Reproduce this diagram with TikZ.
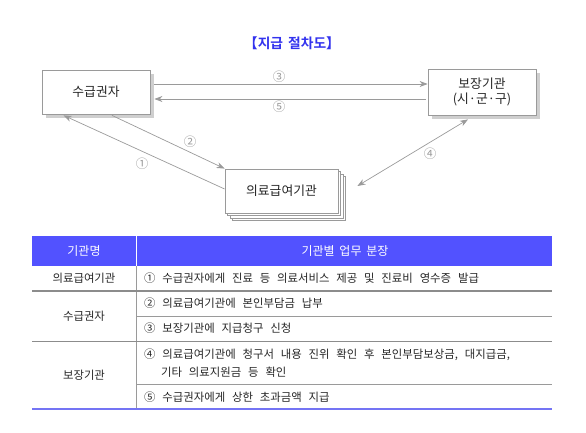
\documentclass[tikz,border=0pt]{standalone}
\usepackage{fontspec}
\setmainfont{Noto Sans CJK KR}[BoldFont={Noto Sans CJK KR Bold}]
\usetikzlibrary{arrows.meta,calc}
\definecolor{lineg}{HTML}{9A9A9A}
\definecolor{shad}{HTML}{CFCFCF}
\definecolor{hdr}{HTML}{5252FF}
\definecolor{ttl}{HTML}{3333EE}
\definecolor{btm}{HTML}{7474F4}
\definecolor{rowg}{HTML}{8C8C8C}
\definecolor{txt}{HTML}{262626}
\newcommand{\widesp}{\spaceskip 6.8pt plus 1pt minus 1pt\relax}
\newcommand{\cellfont}{\fontsize{11.4}{13}\selectfont\widesp}
\newcommand{\hdrfont}{\fontsize{12}{13}\selectfont\spaceskip 4.8pt\relax}
\newcommand{\ttlfont}{\bfseries\fontsize{13.8}{15}\selectfont\spaceskip 5pt\relax}
\tikzset{
  boxnode/.style={draw=lineg,line width=0.8pt,fill=white,minimum width=108pt,minimum height=44pt,inner sep=0pt,font=\fontsize{12.8}{15}\selectfont,text=txt,align=center},
  arr/.style={draw=lineg,line width=0.7pt,-{Stealth[length=8pt,width=6pt,inset=2.5pt]}},
  darr/.style={draw=lineg,line width=0.7pt,{Stealth[length=8pt,width=6pt,inset=2.5pt]}-{Stealth[length=8pt,width=6pt,inset=2.5pt]}},
  numlbl/.style={font=\fontsize{12.5}{13}\selectfont,text=lineg,inner sep=0pt},
  celltxt/.style={font=\cellfont,text=txt,inner sep=0pt},
}
\begin{document}
\begin{tikzpicture}[x=1pt,y=-1pt]
\useasboundingbox (0,0) rectangle (586,433);
% title
\node[font=\ttlfont,text=ttl] (title) at (292,43) {【지급 절차도】};
% shadows
\fill[shad] (46,74) rectangle (154,118);
\fill[shad] (432,73) rectangle (540,119);
% stacked copies
\foreach \o in {7.5,5,2.5}{
  \draw[draw=lineg,line width=0.6pt,fill=white] (225+\o,169+\o) rectangle (338+\o,213+\o);
}
% boxes
\node[boxnode] (A) at (96,92) {수급권자};
\node[boxnode,minimum height=46pt] (B) at (482,92) {보장기관\\(시·군·구)};
\node[boxnode,minimum width=113pt] (C) at (281.5,191) {의료급여기관};
% connectors
\draw[arr] ([xshift=4pt,yshift=8pt]A.east) -- ([yshift=8pt]B.west);
\draw[arr] ([xshift=-2pt,yshift=-7pt]B.west) -- ([xshift=4pt,yshift=-7pt]A.east);
\draw[arr] ([xshift=16pt,yshift=-1pt]A.south) -- (C.north west);
\draw[arr] ([yshift=2pt]C.west) -- ([xshift=22pt,yshift=-1pt]A.south west);
\draw[darr] ([xshift=19pt,yshift=5pt]C.east) -- ([xshift=-14pt,yshift=-4pt]B.south);
\node[numlbl] (n3) at (279,77) {③};
\node[numlbl] (n5) at (279,107) {⑤};
\node[numlbl] (n2) at (190,142) {②};
\node[numlbl] (n1) at (142,164) {①};
\node[numlbl] (n4) at (430,154) {④};
% table
\fill[hdr] (32,236) rectangle (552,266);
\draw[white,line width=0.8pt] (136,236) -- (136,266);
\draw[lineg,line width=0.8pt] (136,266) -- (136,409);
\draw[rowg,line width=1.6pt] (32,291) -- (552,291);
\draw[lineg,line width=0.7pt] (136,316) -- (552,316);
\draw[rowg,line width=0.9pt] (32,341) -- (552,341);
\draw[lineg,line width=0.7pt] (136,384) -- (552,384);
\draw[btm,line width=1.8pt] (32,409) -- (552,409);
\node[celltxt,text=white,font=\hdrfont] (h1) at (84,251) {기관명};
\node[celltxt,text=white,font=\hdrfont] (h2) at (345,251) {기관별 업무 분장};
\node[celltxt] (c1) at (84,278.5) {의료급여기관};
\node[celltxt] (c2) at (84,316) {수급권자};
\node[celltxt] (c3) at (84,375) {보장기관};
\node[celltxt,anchor=west] (r1) at (144,278.5) {① 수급권자에게 진료 등 의료서비스 제공 및 진료비 영수증 발급};
\node[celltxt,anchor=west] (r2) at (144,303.5) {② 의료급여기관에 본인부담금 납부};
\node[celltxt,anchor=west] (r3) at (144,328.5) {③ 보장기관에 지급청구 신청};
\node[celltxt,anchor=west] (r4) at (144,355) {④ 의료급여기관에 청구서 내용 진위 확인 후 본인부담보상금, 대지급금,};
\node[celltxt,anchor=west] (r4b) at (161,372) {기타 의료지원금 등 확인};
\node[celltxt,anchor=west] (r5) at (144,397) {⑤ 수급권자에게 상한 초과금액 지급};
\end{tikzpicture}
\end{document}
